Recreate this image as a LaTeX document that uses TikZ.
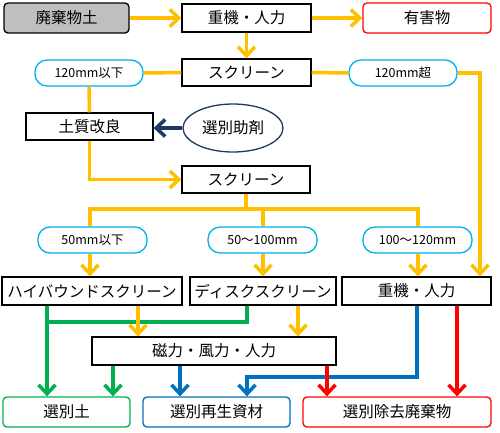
\documentclass[tikz,border=0pt]{standalone}
\usepackage{fontspec}
\setmainfont{Noto Sans CJK JP}
\usetikzlibrary{arrows.meta,shapes.geometric}
\definecolor{yel}{RGB}{255,192,0}
\definecolor{grn}{RGB}{0,176,80}
\definecolor{blu}{RGB}{0,112,192}
\definecolor{rd}{RGB}{255,0,0}
\definecolor{cyn}{RGB}{0,176,240}
\definecolor{nvy}{RGB}{31,56,100}
\definecolor{gry}{RGB}{191,191,191}
\begin{document}
\begin{tikzpicture}[x=1pt,y=-1pt,
  box/.style={draw=black,line width=1.3pt,fill=white,inner sep=0pt,font=\fontsize{15.5}{18}\selectfont},
  rbox/.style={box,rounded corners=4pt},
  pill/.style={draw=cyn,line width=1.3pt,fill=white,rounded corners=12pt,inner sep=0pt,font=\fontsize{12.5}{15}\selectfont},
  fl/.style={line width=3.5pt},
  ar/.style={fl,-{Straight Barb[length=9pt,width=17pt,line width=3.5pt]}},
]
\useasboundingbox (0,0) rectangle (500,432);
% nodes
\node[rbox,fill=gry,minimum width=125pt,minimum height=30pt] (src) at (66.5,18) {廃棄物土};
\node[box,minimum width=129pt,minimum height=28pt] (hm1) at (246.5,18) {重機・人力};
\node[rbox,draw=rd,minimum width=128pt,minimum height=30pt] (haz) at (427,18) {有害物};
\node[box,minimum width=129pt,minimum height=27pt] (sc1) at (246.5,72.5) {スクリーン};
\node[pill,minimum width=108pt,minimum height=26pt] (p120a) at (89,73) {120mm以下};
\node[pill,minimum width=108pt,minimum height=26pt] (p120b) at (403,73) {120mm超};
\node[box,minimum width=127pt,minimum height=27pt] (soil) at (89.5,126.5) {土質改良};
\node[ellipse,draw=nvy,line width=1.3pt,minimum width=100pt,minimum height=48pt,inner sep=0pt,font=\fontsize{15.5}{18}\selectfont] (add) at (233,128) {選別助剤};
\node[box,minimum width=128pt,minimum height=27pt] (sc2) at (246,179.5) {スクリーン};
\node[pill,minimum width=109pt,minimum height=26pt] (p50) at (92.5,240) {50mm以下};
\node[pill,minimum width=109pt,minimum height=26pt] (p100) at (262.5,240) {50～100mm};
\node[pill,minimum width=109pt,minimum height=26pt] (p120) at (417.5,240) {100～120mm};
\node[box,minimum width=180pt,minimum height=28pt] (hb) at (92,291) {ハイバウンドスクリーン};
\node[box,minimum width=146pt,minimum height=28pt] (disk) at (263,291) {ディスクスクリーン};
\node[box,minimum width=149pt,minimum height=28pt] (hm2) at (416.5,291) {重機・人力};
\node[box,minimum width=244pt,minimum height=28pt] (mag) at (214,351) {磁力・風力・人力};
\node[rbox,draw=grn,minimum width=127pt,minimum height=30pt] (o1) at (66.5,412) {選別土};
\node[rbox,draw=blu,minimum width=147pt,minimum height=30pt] (o2) at (216.5,412) {選別再生資材};
\node[rbox,draw=rd,minimum width=188pt,minimum height=30pt] (o3) at (397,412) {選別除去廃棄物};
% connectors
\draw[ar,yel] (src.east) -- (hm1.west);
\draw[ar,yel] (hm1.east) -- (haz.west);
\draw[ar,yel] (hm1.south) -- (sc1.north);
\draw[fl,yel] (sc1.west) -- (p120a.east);
\draw[fl,yel] (sc1.east) -- (p120b.west);
\draw[ar,yel] (p120b.east) -- (480,73) -- (hm2.north east -| 480,0);
\draw[fl,yel] (p120a.south) -- (soil.north);
\draw[ar,nvy] (add.west) -- (soil.east |- add.west);
\draw[ar,yel] (soil.south) -- (89.5,179.5) -- (sc2.west);
\draw[fl,yel] (sc2.south) -- (246,209);
\draw[fl,yel,line cap=rect] (90,209) -- (418,209);
\draw[fl,yel] (90,209) -- (p50.north -| 90,0);
\draw[fl,yel] (263,209) -- (p100.north -| 263,0);
\draw[fl,yel] (418,209) -- (p120.north -| 418,0);
\draw[ar,yel] (p50.south -| 90,0) -- (hb.north -| 90,0);
\draw[ar,yel] (p100.south -| 263,0) -- (disk.north -| 263,0);
\draw[ar,yel] (p120.south -| 418,0) -- (hm2.north -| 418,0);
% green
\draw[ar,grn] (hb.south -| 47,0) -- (o1.north -| 47,0);
\draw[fl,grn] (disk.south -| 247,0) -- (247,322) -- (47,322);
\draw[ar,grn] (mag.south -| 113,0) -- (o1.north -| 113,0);
% yellow to mag
\draw[ar,yel] (hb.south -| 138,0) -- (mag.north -| 138,0);
\draw[ar,yel] (disk.south -| 298,0) -- (mag.north -| 298,0);
% blue
\draw[ar,blu] (mag.south -| 180,0) -- (o2.north -| 180,0);
\draw[ar,blu] (hm2.south -| 417,0) -- (417,377) -- (247,377) -- (o2.north -| 247,0);
% red
\draw[ar,rd] (mag.south -| 327,0) -- (o3.north -| 327,0);
\draw[ar,rd] (hm2.south -| 457,0) -- (o3.north -| 457,0);
\end{tikzpicture}
\end{document}
